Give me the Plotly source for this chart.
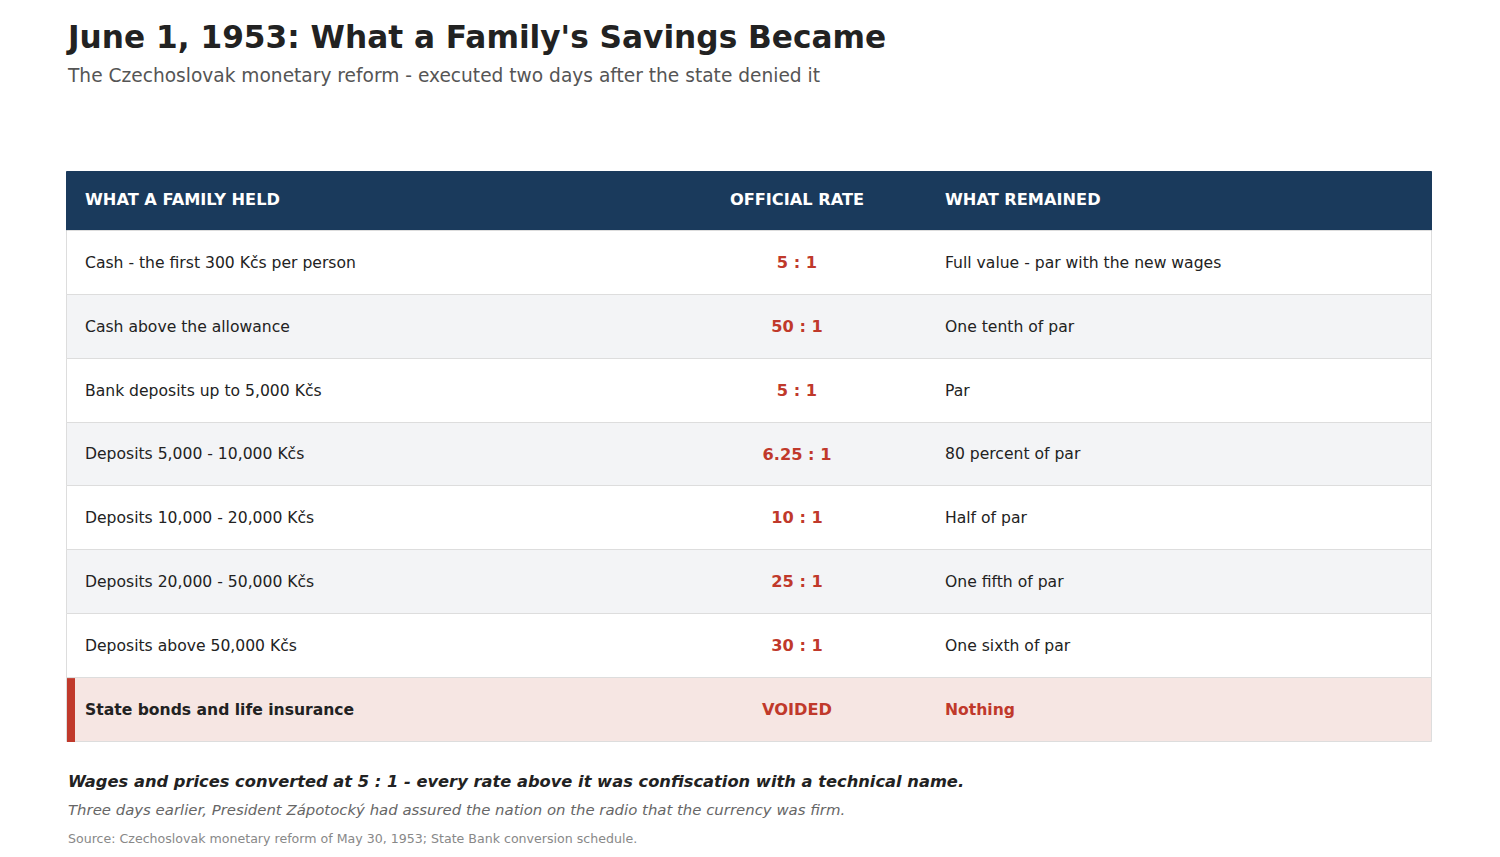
import plotly.graph_objects as go

# table data
columns = ["WHAT A FAMILY HELD", "OFFICIAL RATE", "WHAT REMAINED"]
held = [
    "Cash - the first 300 Kčs per person",
    "Cash above the allowance",
    "Bank deposits up to 5,000 Kčs",
    "Deposits 5,000 - 10,000 Kčs",
    "Deposits 10,000 - 20,000 Kčs",
    "Deposits 20,000 - 50,000 Kčs",
    "Deposits above 50,000 Kčs",
    "State bonds and life insurance",
]
rates = ["5 : 1", "50 : 1", "5 : 1", "6.25 : 1", "10 : 1", "25 : 1", "30 : 1", "VOIDED"]
remained = [
    "Full value - par with the new wages",
    "One tenth of par",
    "Par",
    "80 percent of par",
    "Half of par",
    "One fifth of par",
    "One sixth of par",
    "Nothing",
]
voided = [False] * 7 + [True]

NAVY = "#1a3a5c"
RED = "#c0392b"
INK = "#222222"
FONT = "DejaVu Sans, Verdana, sans-serif"

# page body adds an 8px margin, so positions are measured minus that
OFF = 8
FW, FH = 1500, 857

def px_x(p):
    return (p - OFF) / FW

def px_y(p):
    return 1 - (p - OFF) / FH

# geometry in pixels (table is 1365 wide, header 59 high, rows 64 high)
W = 1365
HEAD_H = 59
ROW_H = 64
n = len(held)
TOTAL_H = HEAD_H + ROW_H * n

centers = [HEAD_H / 2] + [HEAD_H + ROW_H * i + ROW_H / 2 for i in range(n)]
heights = [HEAD_H] + [ROW_H] * n

fills = [NAVY]
lines = [NAVY]
for i in range(n):
    if voided[i]:
        fills.append("#f6e6e3")
    elif i % 2 == 1:
        fills.append("#f3f4f6")
    else:
        fills.append("#ffffff")
    lines.append("#dddddd")

fig = go.Figure()

fig.add_trace(go.Bar(
    orientation="h",
    x=[W] * (n + 1),
    y=centers,
    width=heights,
    base=0,
    marker=dict(color=fills, line=dict(color=lines, width=1)),
    hoverinfo="skip",
    showlegend=False,
))

row_y = [c + 1 for c in centers[1:]]

def cell(txt, bold):
    return f"<b>{txt}</b>" if bold else txt

# column 1
fig.add_trace(go.Scatter(
    x=[18] * n, y=row_y, mode="text",
    text=[cell(t, v) for t, v in zip(held, voided)],
    textposition="middle right",
    textfont=dict(family=FONT, size=15.6, color=INK),
    hoverinfo="skip", showlegend=False,
))
# column 2
fig.add_trace(go.Scatter(
    x=[730] * n, y=row_y, mode="text",
    text=[f"<b>{t}</b>" for t in rates],
    textposition="middle center",
    textfont=dict(family=FONT, size=16.2, color=RED),
    hoverinfo="skip", showlegend=False,
))
# column 3
fig.add_trace(go.Scatter(
    x=[878] * n, y=row_y, mode="text",
    text=[cell(t, v) for t, v in zip(remained, voided)],
    textposition="middle right",
    textfont=dict(family=FONT, size=15.6, color=[RED if v else INK for v in voided]),
    hoverinfo="skip", showlegend=False,
))
# header
fig.add_trace(go.Scatter(
    x=[18, 730, 878], y=[centers[0]] * 3, mode="text",
    text=[f"<b>{c}</b>" for c in columns],
    textposition=["middle right", "middle center", "middle right"],
    textfont=dict(family=FONT, size=16.2, color="white"),
    hoverinfo="skip", showlegend=False,
))

# red accent on the voided row
for i, v in enumerate(voided):
    if v:
        fig.add_shape(type="rect", xref="x", yref="y",
                      x0=0, x1=8,
                      y0=HEAD_H + ROW_H * i, y1=HEAD_H + ROW_H * (i + 1),
                      fillcolor=RED, line=dict(width=0), layer="above")

fig.update_xaxes(range=[-1, W + 1], visible=False, fixedrange=True,
                 domain=[px_x(66), px_x(1433)])
fig.update_yaxes(range=[TOTAL_H + 1, -1], visible=False, fixedrange=True,
                 domain=[px_y(743), px_y(171)])

annotations = [
    dict(text="<b>June 1, 1953: What a Family's Savings Became</b>",
         x=px_x(64), y=px_y(37), font=dict(size=31.2, color=INK)),
    dict(text="The Czechoslovak monetary reform - executed two days after the state denied it",
         x=px_x(65), y=px_y(75), font=dict(size=18.6, color="#555555")),
    dict(text="<b><i>Wages and prices converted at 5 : 1 - every rate above it was confiscation with a technical name.</i></b>",
         x=px_x(66), y=px_y(781), font=dict(size=16.3, color=INK)),
    dict(text="<i>Three days earlier, President Zápotocký had assured the nation on the radio that the currency was firm.</i>",
         x=px_x(66), y=px_y(810), font=dict(size=14.9, color="#666666")),
    dict(text="Source: Czechoslovak monetary reform of May 30, 1953; State Bank conversion schedule.",
         x=px_x(66), y=px_y(838), font=dict(size=12.6, color="#888888")),
]
for a in annotations:
    a.update(xref="paper", yref="paper", xanchor="left", yanchor="middle",
             showarrow=False)
    a["font"]["family"] = FONT

fig.update_layout(
    width=FW, height=FH,
    margin=dict(l=0, r=0, t=0, b=0),
    paper_bgcolor="white", plot_bgcolor="white",
    bargap=0,
    annotations=annotations,
    font=dict(family=FONT),
)

fig.write_html("out.html", config={"displayModeBar": False})
